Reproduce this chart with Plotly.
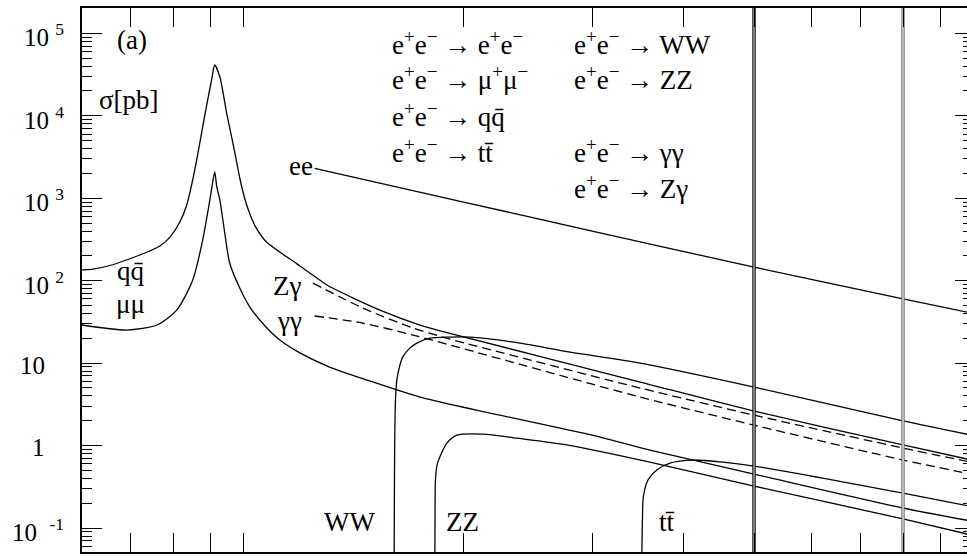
import numpy as np
import plotly.graph_objects as go

# sqrt(s) [GeV] and cross section [pb]
ee_E = [125, 200, 300, 500, 800, 1000]
ee_sig = [2300, 900, 400, 146, 60, 40]

qq_E = [60, 62.1, 65.9, 72.0, 74.3, 76.7, 79.2, 81.7, 83.5, 84.9, 86.2, 88.4, 90.4, 91.2,
        92.7, 94.7, 96.9, 98.7, 100.3, 101.9, 103.8, 107.4, 118.1, 127, 131, 153.6,
        174.3, 191.5, 349, 500, 800, 1000]
qq_sig = [135, 138, 155, 205, 229, 263, 338, 514, 827, 1530, 2990, 10200, 28700, 41300,
          29500, 10800, 4060, 1760, 978, 643, 447, 294, 161, 102, 85, 44,
          29, 23, 5.9, 2.62, 1.02, 0.66]

mu_E = [60, 69.1, 76, 80.9, 85.1, 87.8, 89.8, 90.4, 91.2, 91.8, 92.7, 94.1, 95.6, 98.7,
        101.9, 106.9, 112, 119.3, 131, 147.4, 174.3, 307.6, 360, 500, 800, 1000]
mu_sig = [29, 25.2, 29, 44, 102, 311, 951, 1370, 2080, 1370, 951, 389, 164, 81.5,
          47.9, 28.2, 19.05, 13.3, 8.97, 6.24, 3.88, 1.27, 0.88, 0.452, 0.175, 0.12]

zg_E = [124.3, 145.5, 170.5, 191.5, 349, 500, 800, 1000]
zg_sig = [93.6, 46.6, 26.7, 19.6, 4.99, 2.34, 0.933, 0.62]

gg_E = [125, 145.5, 170.5, 191.5, 349, 500, 800, 1000]
gg_sig = [37.3, 30.6, 21.9, 16.6, 3.88, 1.77, 0.668, 0.445]

ww_E = [160.65, 160.8, 161.0, 161.3, 162.0, 163.6, 165.1, 168.8, 172.6, 179.8, 191.5,
        204, 239, 280, 349, 500, 800, 1000]
ww_sig = [0.04, 0.4, 1.5, 3.5, 6.2, 9.5, 11.9, 15.2, 17.5, 20.1, 20.7,
          20.7, 17.5, 13.6, 10.0, 5.13, 1.99, 1.32]

zz_E = [182.65, 182.8, 183.0, 183.9, 185.6, 189.7, 195.8, 212.6, 236.7, 277, 360, 500, 800, 1000]
zz_sig = [0.04, 0.22, 0.38, 0.58, 0.73, 1.07, 1.34, 1.38, 1.23, 1.02, 0.63, 0.323, 0.129, 0.081]

tt_E = [350.85, 351.6, 352.6, 357.8, 368.2, 383.6, 412.4, 453.3, 500, 800, 1000]
tt_sig = [0.04, 0.125, 0.238, 0.382, 0.509, 0.614, 0.668, 0.631, 0.565, 0.265, 0.18]

# collider energies marked with double vertical lines
collider_E = [500, 800]

# axis ticks
y_major = [0.1, 1, 10, 100, 1e3, 1e4, 1e5]
y_minor = [k * 10.0 ** e for e in range(-2, 6) for k in range(2, 10)]
y_labels = ["10\u2002<sup>-1</sup>", "1", "10", "10 <sup>2</sup>", "10 <sup>3</sup>",
            "10 <sup>4</sup>", "10 <sup>5</sup>"]
x_major = [100]
x_minor = [70, 80, 90, 200, 300, 400, 500, 600, 700, 800, 900]

W, H = 967, 557
L, R, T, B = 82, 0, 8, 5
X_RANGE = [np.log10(60), np.log10(979)]
Y_RANGE = [np.log10(0.0512), np.log10(2.03e5)]
FONT = "Liberation Serif"


def xp(px):
    return (px - L) / (W - L - R)


def yp(py):
    return (H - B - py) / (H - T - B)


fig = go.Figure()

curves = [
    (ee_E, ee_sig, "solid"),
    (qq_E, qq_sig, "solid"),
    (mu_E, mu_sig, "solid"),
    (zg_E, zg_sig, "9px,5px"),
    (gg_E, gg_sig, "9px,5px"),
    (ww_E, ww_sig, "solid"),
    (zz_E, zz_sig, "solid"),
    (tt_E, tt_sig, "solid"),
]
for xs, ys, dash in curves:
    fig.add_trace(go.Scatter(x=xs, y=ys, mode="lines",
                             line=dict(color="black", width=1.3, dash=dash,
                                       shape="spline", smoothing=0.7),
                             hoverinfo="skip", showlegend=False))

# double vertical lines (outer dark line with a thin white core)
for i, e in enumerate(collider_E):
    outer = "black" if i == 0 else "#707070"
    yax = "y" if i == 0 else "y2"
    fig.add_trace(go.Scatter(x=[e, e], y=[0.01, 1e6], mode="lines", yaxis=yax,
                             line=dict(color=outer, width=3.4),
                             hoverinfo="skip", showlegend=False))
    fig.add_trace(go.Scatter(x=[e, e], y=[0.01, 1e6], mode="lines", yaxis=yax,
                             line=dict(color="white", width=1.0),
                             hoverinfo="skip", showlegend=False))

ann = []


def text(px, py, s, size=27, anchor="left"):
    ann.append(dict(x=xp(px), y=yp(py), xref="paper", yref="paper", text=s,
                    showarrow=False, xanchor=anchor, yanchor="middle",
                    font=dict(family=FONT, size=size, color="black")))


# y tick labels
for v, lab in zip(y_major, y_labels):
    ann.append(dict(x=0, y=np.log10(v), xref="paper", yref="y", text=lab,
                    showarrow=False, xanchor="right", yanchor="middle",
                    xshift=-(L - 66) if "sup" in lab else -(L - 47), yshift=-2,
                    font=dict(family=FONT, size=25, color="black")))

text(115, 40, "(a)")
text(97, 100, "σ[pb]")

ep = "e<sup>+</sup>e<sup>−</sup> → "
legend_rows = [
    (390, 43, ep + "e<sup>+</sup>e<sup>−</sup>"),
    (572, 43, ep + "WW"),
    (390, 78, ep + "μ<sup>+</sup>μ<sup>−</sup>"),
    (572, 78, ep + "ZZ"),
    (390, 115, ep + "qq̄"),
    (390, 151, ep + "tt̄"),
    (572, 151, ep + "γγ"),
    (572, 187, ep + "Zγ"),
]
for px, py, s in legend_rows:
    text(px, py, s)

text(287, 166, "ee")
text(115, 271, "qq̄")
text(114, 304, "μμ")
text(271, 286, "Zγ")
text(275, 321, "γγ")
text(322, 522, "WW")
text(444, 522, "ZZ")
text(657, 522, "tt̄")

fig.update_layout(
    width=W, height=H,
    margin=dict(l=L, r=R, t=T, b=B),
    paper_bgcolor="white", plot_bgcolor="white",
    showlegend=False,
    annotations=ann,
    xaxis=dict(type="log", range=X_RANGE, showgrid=False, zeroline=False,
               showline=True, linewidth=1.8, linecolor="black", mirror="allticks",
               ticks="inside", tickvals=x_major, ticklen=19, tickwidth=1.2,
               tickcolor="black", showticklabels=False,
               minor=dict(tickvals=x_minor, ticks="inside", ticklen=10,
                          tickwidth=1.2, tickcolor="black")),
    yaxis=dict(type="log", range=Y_RANGE, showgrid=False, zeroline=False,
               showline=True, linewidth=1.8, linecolor="black",
               ticks="inside", tickvals=y_major, ticklen=20, tickwidth=1.2,
               tickcolor="black", showticklabels=False,
               minor=dict(tickvals=y_minor, ticks="inside", ticklen=10,
                          tickwidth=1.0, tickcolor="black")),
    yaxis2=dict(type="log", range=Y_RANGE, overlaying="y", side="right", anchor="x",
                showgrid=False, zeroline=False, showline=False,
                ticks="inside", tickvals=y_major, ticklen=12, tickwidth=1.2,
                tickcolor="black", showticklabels=False,
                minor=dict(tickvals=y_minor, ticks="inside", ticklen=4,
                           tickwidth=1.0, tickcolor="black")),
)

fig.write_html("out.html", config={"displayModeBar": False},
               post_script="document.body.style.margin = '0px';")
